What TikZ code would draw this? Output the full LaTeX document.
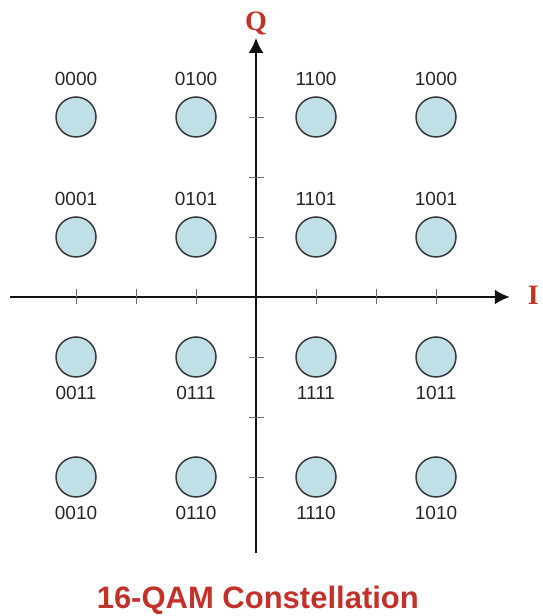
\documentclass[tikz,border=0pt]{standalone}
\usepackage{fontspec}
\setmainfont{Liberation Sans}
\newfontfamily\axisfont{Liberation Serif}
\usetikzlibrary{arrows.meta,positioning}
\definecolor{dotfill}{HTML}{BEE0E6}
\definecolor{dotedge}{HTML}{383838}
\definecolor{brick}{HTML}{C2322A}
\definecolor{axisink}{HTML}{111111}
\definecolor{tickgray}{HTML}{6E6E6E}

\begin{document}
\begin{tikzpicture}[
  x=60pt,y=60pt,
  symbol/.style={circle,draw=dotedge,line width=1.5pt,fill=dotfill,
                 minimum size=40pt,inner sep=0pt},
  bits/.style={font=\fontsize{19}{19}\selectfont,text=black!85,inner sep=1pt},
  axisline/.style={line width=2.4pt,draw=axisink,
                   -{Latex[length=15pt,width=15pt]}},
  tickmark/.style={line width=0.9pt,draw=tickgray},
  axislbl/.style={font=\axisfont\bfseries\fontsize{28}{28}\selectfont,text=brick},
]
\useasboundingbox (-4.267,-5.317) rectangle (4.767,4.95);

% Axes with their end points.
\coordinate (west) at (-4.1,0);
\coordinate (east) at (4.23,0);
\coordinate (south) at (0,-4.27);
\coordinate (north) at (0,4.32);
\draw[axisline] (west) -- (east);
\draw[axisline] (south) -- (north);

% Ticks every half grid step.
\foreach \t in {-3,-2,-1,1,2,3} {
  \draw[tickmark] (\t,-0.125) -- (\t,0.125);
  \draw[tickmark] (-0.125,\t) -- (0.125,\t);
}

\node[axislbl] (qlbl) at (0,4.56) {Q};
\node[axislbl] (ilbl) at (4.62,0.03) {I};

% Sixteen symbols, Gray-coded.
\foreach \y/\pos/\gap/\a/\b/\c/\d in {3/above/9pt/0000/0100/1100/1000,
                                      1/above/9pt/0001/0101/1101/1001,
                                      -1/below/7pt/0011/0111/1111/1011,
                                      -3/below/7pt/0010/0110/1110/1010} {
  \foreach \x/\code in {-3/\a,-1/\b,1/\c,3/\d} {
    \node[symbol] (s\code) at (\x,\y) {};
    \node[bits,\pos=\gap of s\code] (b\code) {\code};
  }
}

\node[font=\bfseries\fontsize{31}{31}\selectfont,text=brick] (title)
  at (0.03,-5.05) {16-QAM Constellation};

\end{tikzpicture}
\end{document}
